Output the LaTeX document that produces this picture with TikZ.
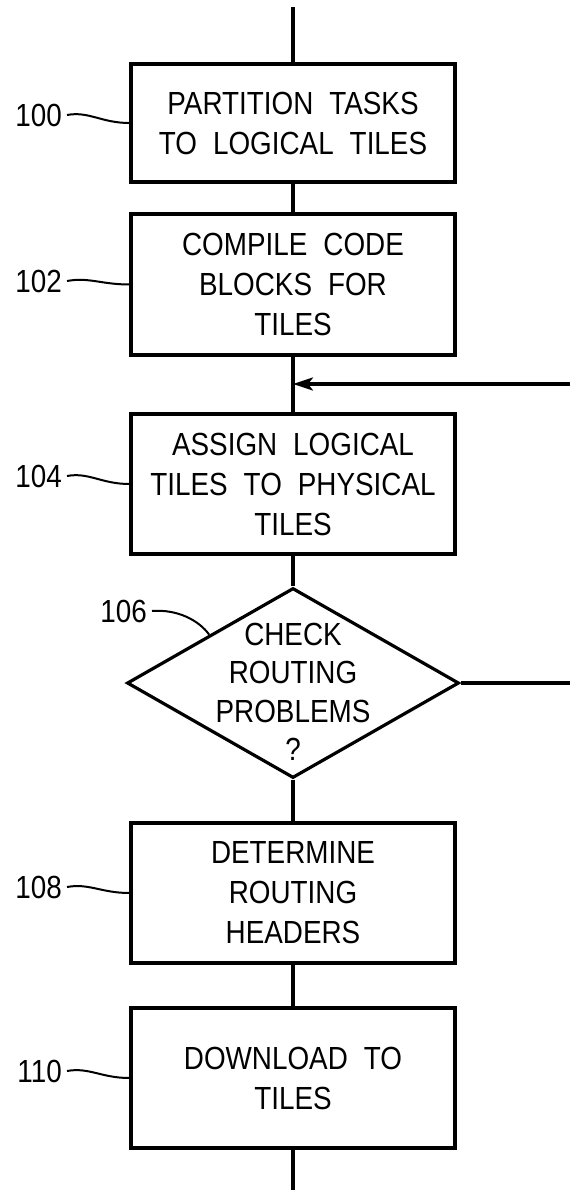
\documentclass[tikz,border=0pt]{standalone}
\usepackage{fontspec}
\setmainfont{Liberation Sans}[FakeStretch=0.87]
\usetikzlibrary{shapes.geometric,arrows.meta}

% condensed flowchart lettering with wide word gaps
\newcommand{\chartfont}{\fontsize{32}{40}\selectfont\spaceskip=16pt\relax}
\newcommand{\decisionfont}{\fontsize{32}{38.5}\selectfont\spaceskip=16pt\relax}

\begin{document}
\begin{tikzpicture}[x=1pt,y=-1pt,
  flow/.style={line width=3.2pt},
  stepbox/.style={draw,line width=3.2pt,minimum width=324pt,inner sep=0pt,
    align=center,font=\chartfont},
  decision/.style={draw,diamond,line width=3.2pt,minimum width=332pt,
    minimum height=190pt,inner sep=0pt},
  decisiontext/.style={align=center,font=\decisionfont,inner sep=0pt},
  refnum/.style={anchor=east,inner xsep=5pt,inner ysep=0pt,font=\chartfont},
  leader/.style={line width=2pt},
  feedback/.style={line width=3.2pt,-{Stealth[length=20pt,width=13pt,inset=5pt]}}]

\useasboundingbox (0,0) rectangle (570,1190);

% process steps
\node[stepbox,minimum height=118pt] (b100) at (293,123)
  {PARTITION TASKS\\TO LOGICAL TILES};
\node[stepbox,minimum height=141pt] (b102) at (293,284.5)
  {COMPILE CODE\\BLOCKS FOR\\TILES};
\node[stepbox,minimum height=140pt] (b104) at (293,484)
  {ASSIGN LOGICAL\\TILES TO PHYSICAL\\TILES};
\node[decision] (d106) at (293,683) {};
\node[decisiontext] (d106t) at (293,692)
  {CHECK\\ROUTING\\PROBLEMS\\?};
\node[stepbox,minimum height=140pt] (b108) at (293,893)
  {DETERMINE\\ROUTING\\HEADERS};
\node[stepbox,minimum height=140pt] (b110) at (293,1078)
  {DOWNLOAD TO\\TILES};

% free ends of the flow lines
\coordinate (entry) at (293,7);
\coordinate (exit) at (293,1190);
\coordinate (retx) at (570,384);
\coordinate (join) at (293,384);
\coordinate (outx) at (570,683);

% main flow
\draw[flow] (entry) -- (b100.north);
\draw[flow] (b100.south) -- (b102.north);
\draw[flow] (b102.south) -- (b104.north);
\draw[flow] (b104.south) -- (d106.north);
\draw[flow] (d106.south) -- (b108.north);
\draw[flow] (b108.south) -- (b110.north);
\draw[flow] (b110.south) -- (exit);

% loop back on routing problems
\draw[flow] (d106.east) -- (outx);
\draw[feedback] (retx) -- (join);

% reference numerals
\node[refnum] (l100) at (67,115) {100};
\node[refnum] (l102) at (67,281) {102};
\node[refnum] (l104) at (67,476) {104};
\node[refnum] (l106) at (152,611) {106};
\node[refnum] (l108) at (67,887) {108};
\node[refnum] (l110) at (67,1071) {110};

\draw[leader] (l100.east) .. controls +(22,-4) and +(-28,0) .. (b100.west);
\draw[leader] (l102.east) .. controls +(22,-4) and +(-28,0) .. (b102.west);
\draw[leader] (l104.east) .. controls +(22,-4) and +(-28,0) .. (b104.west);
\draw[leader] (l106.east) .. controls +(26,-2) and +(-10,-14) .. (d106.north west);
\draw[leader] (l108.east) .. controls +(22,-4) and +(-28,0) .. (b108.west);
\draw[leader] (l110.east) .. controls +(22,-4) and +(-28,0) .. (b110.west);
\end{tikzpicture}
\end{document}
